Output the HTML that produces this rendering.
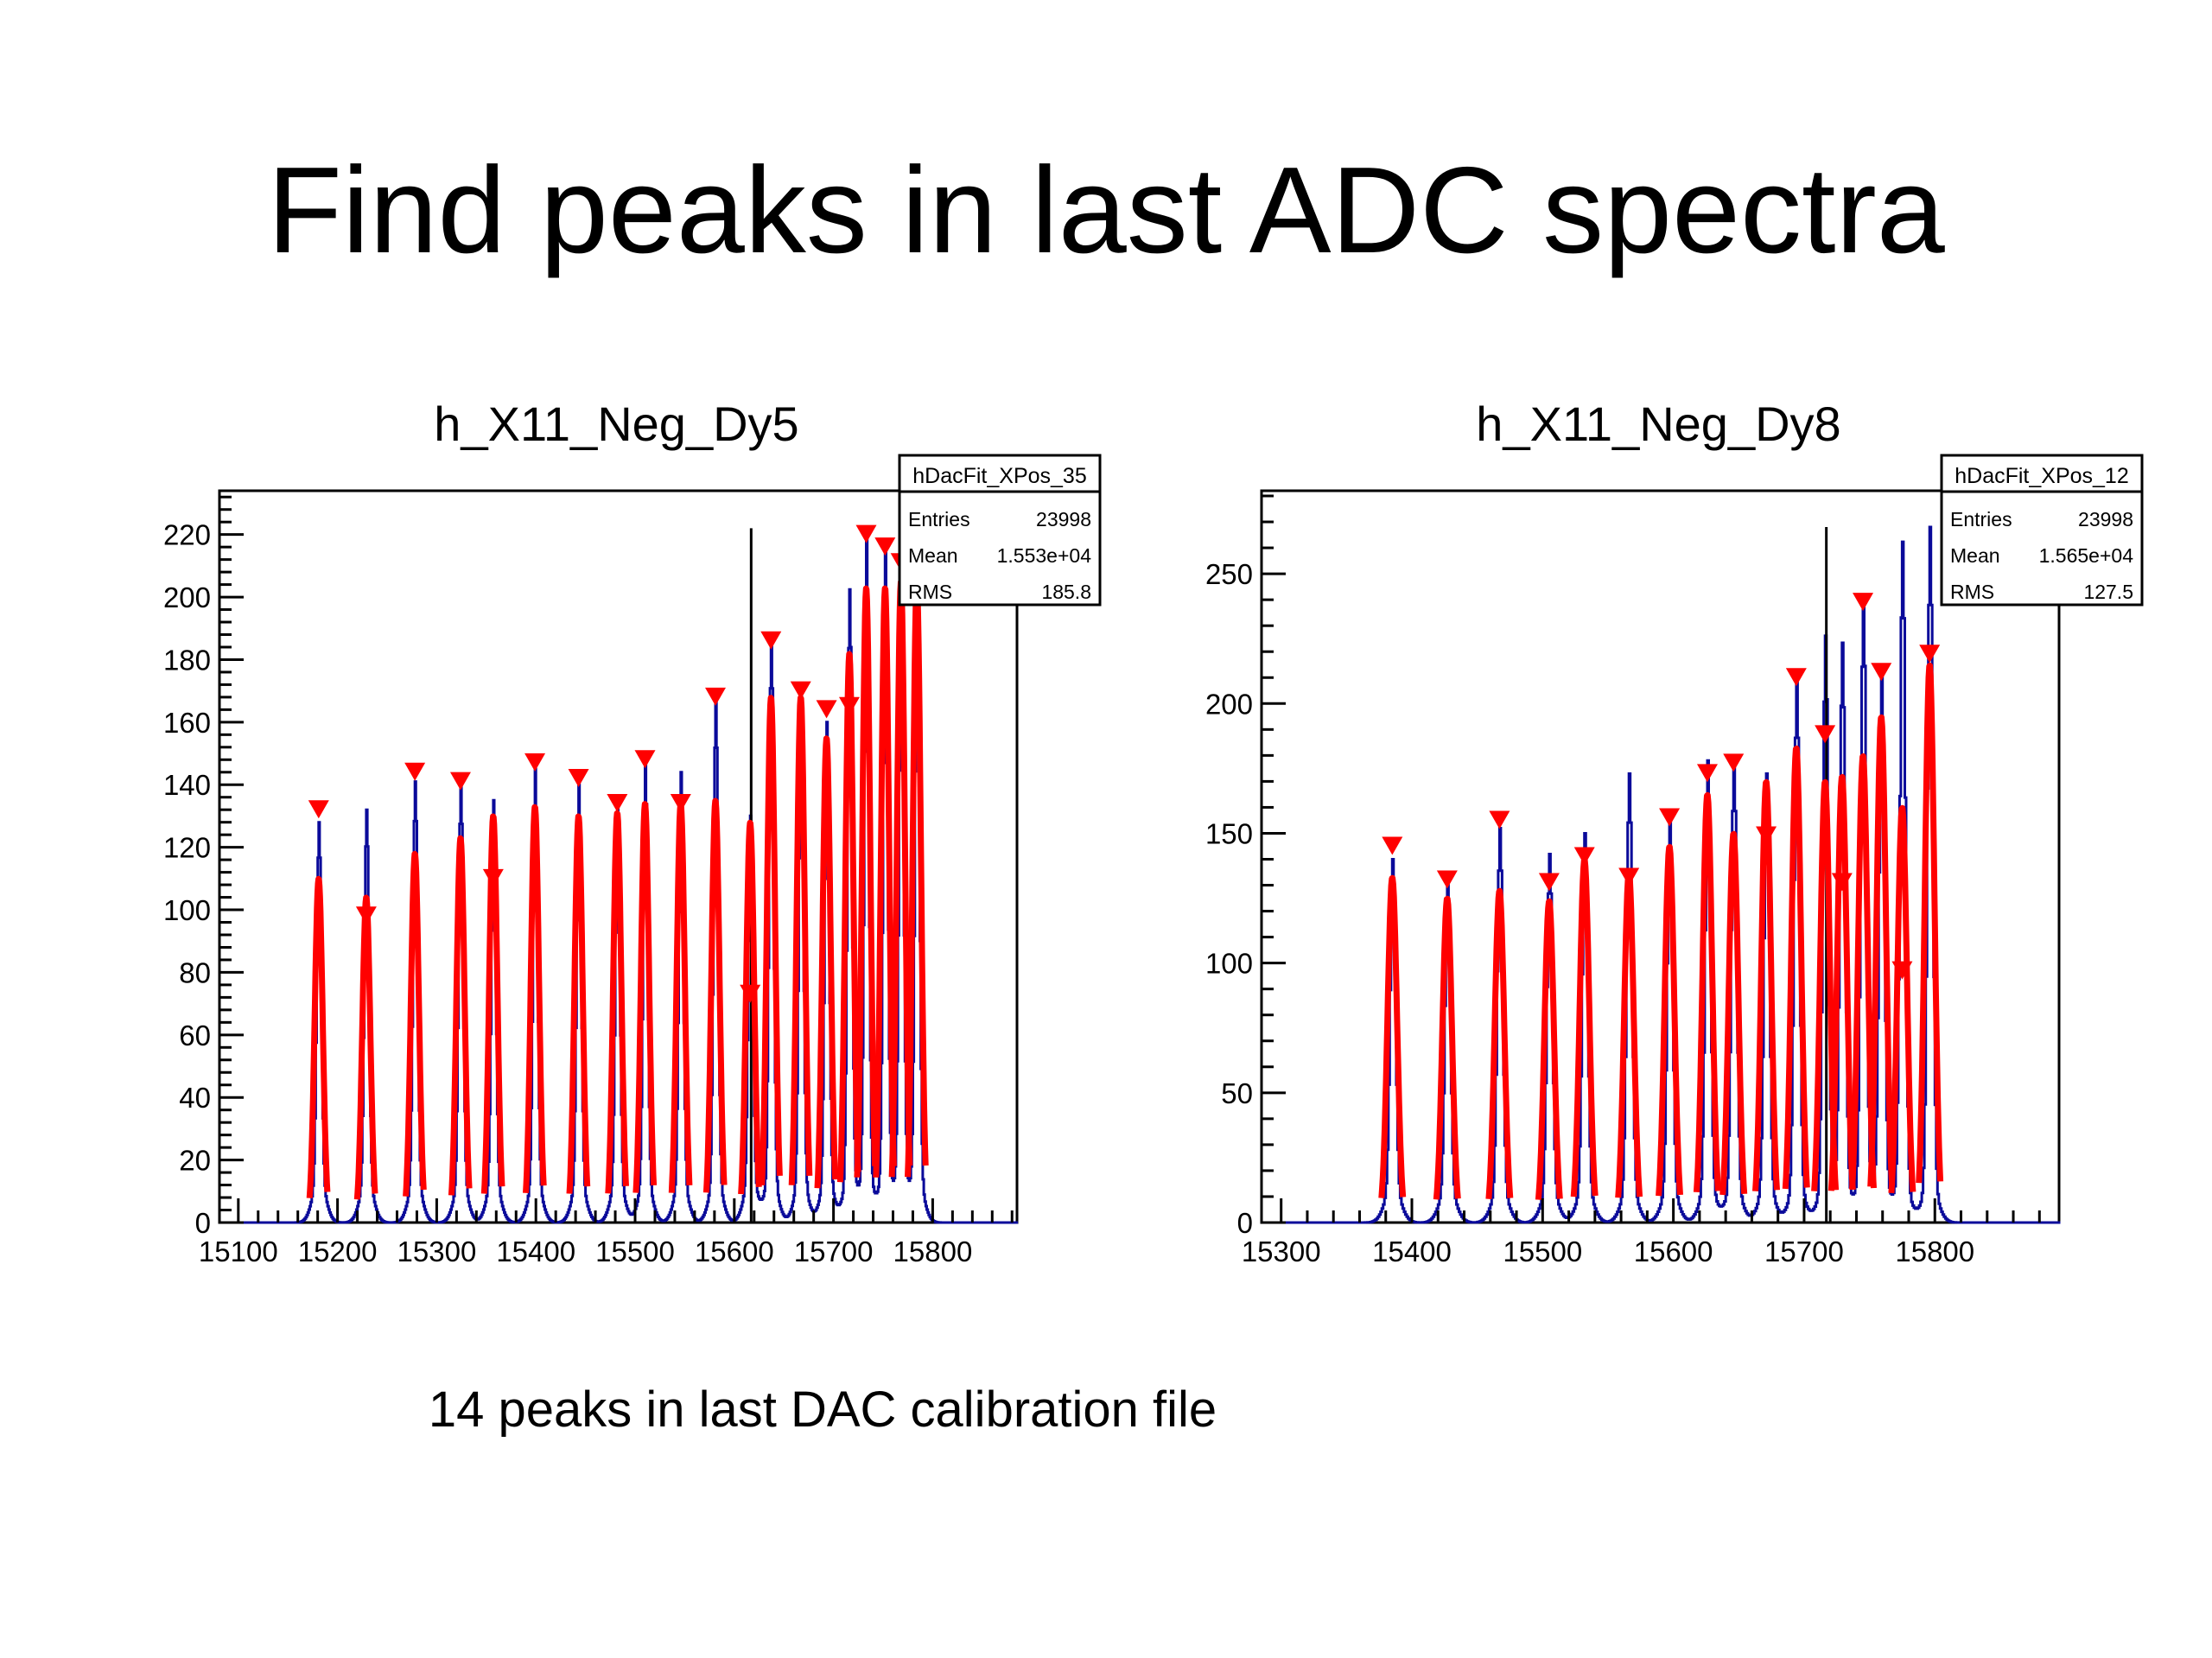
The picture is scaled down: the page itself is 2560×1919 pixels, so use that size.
<!DOCTYPE html>
<html><head><meta charset="utf-8">
<style>
html,body{margin:0;padding:0;background:#fff;}
svg{display:block;font-family:"Liberation Sans",Arial,sans-serif;}
</style></head>
<body>
<svg id="root" width="2560" height="1919" viewBox="0 0 2560 1919" xmlns="http://www.w3.org/2000/svg">
<rect x="0" y="0" width="2560" height="1919" fill="#fff"/>
<text x="1280" y="292" font-size="142" text-anchor="middle" fill="#000">Find peaks in last ADC spectra</text>
<text x="952" y="1651" font-size="58" text-anchor="middle" fill="#000">14 peaks in last DAC calibration file</text>
<g id="chartL"></g>
<g id="chartR"></g>
</svg>
<script>
// ---- Left chart data (h_X11_Neg_Dy5) ----
const leftPeakPos = [15181,15229,15278,15324,15357,15399,15443,15482,15510,15546,15581,15616,15637,15667,15693,15716,15733,15752,15768,15784];
const leftFitAmp  = [110,104,118,123,130,133,130,131,134,134,135,128,168,168,155,182,203,203,205,205];
const leftHistAmp = [128,132,141,140,135,145,140,134,147,144,167,130,188,170,160,202,220,215,210,210];
const leftMarkers = [132,98,144,141,110,147,142,134,148,134,168,73,186,170,164,165,220,216,211,0];
const leftXTicks = [15100,15200,15300,15400,15500,15600,15700,15800];
const leftYTicks = [0,20,40,60,80,100,120,140,160,180,200,220];
const leftLinePos = [15617];
const leftLineVal = [222];
// ---- Right chart data (h_X11_Neg_Dy8) ----
const rightPeakPos = [15385,15427,15467,15505,15532,15566,15597,15626,15646,15671,15694,15716,15729,15745,15759,15775,15796];
const rightFitAmp  = [133,125,128,124,140,135,145,165,150,170,183,170,172,180,195,160,215];
const rightHistAmp = [140,130,152,142,150,173,157,178,178,173,210,225,222,240,212,262,268];
const rightMarkers = [145,132,155,131,141,133,156,173,177,149,210,188,131,239,212,97,219];
const rightXTicks = [15300,15400,15500,15600,15700,15800];
const rightYTicks = [0,50,100,150,200,250];
const rightLinePos = [15717];
const rightLineVal = [268];

const NS="http://www.w3.org/2000/svg";
function mk(tag,attrs,parent){const e=document.createElementNS(NS,tag);for(const k in attrs)e.setAttribute(k,attrs[k]);parent.appendChild(e);return e;}

function drawChart(g,cfg){
  const L=cfg.L,T=568,R=cfg.R,B=1415;
  const sx=v=>L+(v-cfg.xmin)/(cfg.xmax-cfg.xmin)*(R-L);
  const sy=v=>B-(v-0)/(cfg.ymax)*(B-T);
  const title=mk('text',{x:(L+R)/2-2,y:510,'font-size':56,'text-anchor':'middle',fill:'#000'},g);
  
  
  title.textContent=cfg.title;
  const fr=mk('rect',{x:L,y:T,width:R-L,height:B-T,fill:'#fff',stroke:'#000','stroke-width':3},g);
  
  
  let d='';
  const step=1;
  for(let v=cfg.xmin;v<=cfg.xmax;v+=step){
    let y=0;
    for(let i=0;i<cfg.pos.length;i++){
      const z=(v-cfg.pos[i])/cfg.hs;const z2=(v-cfg.pos[i])/(cfg.fs*1.6);
      y+=(cfg.hist[i]-14)*Math.exp(-0.5*z*z)+14*Math.exp(-0.5*z2*z2);
    }
    y=Math.min(y,cfg.ymax);
    d+=(d?'L':'M')+sx(v).toFixed(1)+','+sy(y).toFixed(1)+'L'+sx(v+step).toFixed(1)+','+sy(y).toFixed(1);
  }
  const hp=mk('path',{d:d,fill:'none',stroke:'#0a0a9a','stroke-width':3},g);
  
  
  for(let i=0;i<cfg.linePos.length;i++){
    const bl=mk('line',{x1:sx(cfg.linePos[i]),x2:sx(cfg.linePos[i]),y1:B,y2:sy(cfg.lineVal[i]),stroke:'#000','stroke-width':3},g);
    
    
  }
  for(let i=0;i<cfg.pos.length;i++){
    let fd='';
    for(let v=cfg.pos[i]-2.3*cfg.fs;v<=cfg.pos[i]+2.3*cfg.fs;v+=0.5){
      const z=(v-cfg.pos[i])/cfg.fs;const y=Math.min(cfg.fit[i]*Math.exp(-0.5*z*z),cfg.ymax);
      fd+=(fd?'L':'M')+sx(v).toFixed(1)+','+sy(y).toFixed(1);
    }
    const fp=mk('path',{d:fd,fill:'none',stroke:'#ff0000','stroke-width':7,'stroke-linejoin':'round'},g);
    
    
  }
  for(let i=0;i<cfg.pos.length;i++){
    if(!cfg.mark[i])continue;
    const x=sx(cfg.pos[i]),y=sy(cfg.mark[i]);
    const tri=mk('polygon',{points:`${x-12},${y-11} ${x+12},${y-11} ${x},${y+10}`,fill:'#ff0000'},g);
    
    
  }
  const ta=mk('g',{stroke:'#000','stroke-width':3},g);
  
  
  const ymin_step=cfg.yTicks[1]/5;
  for(let v=0;v<=cfg.ymax;v+=ymin_step){
    const major=Math.abs(v/cfg.yTicks[1]-Math.round(v/cfg.yTicks[1]))<1e-6;
    mk('line',{x1:L,x2:L+(major?28:14),y1:sy(v),y2:sy(v)},ta);
  }
  for(let v=Math.ceil(cfg.xmin/20)*20;v<=cfg.xmax;v+=20){
    const major=v%100===0;
    mk('line',{x1:sx(v),x2:sx(v),y1:B,y2:B-(major?28:14)},ta);
  }
  cfg.yTicks.forEach(v=>{
    const t=mk('text',{x:L-10,y:sy(v)+12,'font-size':33,'text-anchor':'end',fill:'#000'},g);
    
    
    t.textContent=v;
  });
  cfg.xTicks.forEach(v=>{
    const t=mk('text',{x:sx(v),y:B+45,'font-size':33,'text-anchor':'middle',fill:'#000'},g);
    
    
    t.textContent=v;
  });
  const bx=cfg.boxX,by=527,bw=232,bh=173;
  const sb=mk('g',{},g);
  
  
  mk('rect',{x:bx,y:by,width:bw,height:bh,fill:'#fff',stroke:'#000','stroke-width':3},sb);
  mk('line',{x1:bx,x2:bx+bw,y1:by+42,y2:by+42,stroke:'#000','stroke-width':3},sb);
  const h=mk('text',{x:bx+bw/2,y:by+32,'font-size':25,'text-anchor':'middle',fill:'#000'},sb);
  h.textContent=cfg.statName;
  const rows=[['Entries','23998'],['Mean',cfg.mean],['RMS',cfg.rms]];
  rows.forEach((r,i)=>{
    const yy=by+82+i*42;
    const a=mk('text',{x:bx+10,y:yy,'font-size':23,fill:'#000'},sb);a.textContent=r[0];
    const b=mk('text',{x:bx+bw-10,y:yy,'font-size':23,'text-anchor':'end',fill:'#000'},sb);b.textContent=r[1];
  });
}
drawChart(document.getElementById('chartL'),{L:254,R:1177,xmin:15081,xmax:15885,ymax:234,title:'h_X11_Neg_Dy5',
  pos:leftPeakPos,fit:leftFitAmp,hist:leftHistAmp,mark:leftMarkers,xTicks:leftXTicks,yTicks:leftYTicks,
  linePos:leftLinePos,lineVal:leftLineVal,hs:2.2,fs:4,boxX:1041,statName:'hDacFit_XPos_35',mean:'1.553e+04',rms:'185.8'});
drawChart(document.getElementById('chartR'),{L:1460,R:2383,xmin:15285,xmax:15895,ymax:282,title:'h_X11_Neg_Dy8',
  pos:rightPeakPos,fit:rightFitAmp,hist:rightHistAmp,mark:rightMarkers,xTicks:rightXTicks,yTicks:rightYTicks,
  linePos:rightLinePos,lineVal:rightLineVal,hs:2.0,fs:3.6,boxX:2247,statName:'hDacFit_XPos_12',mean:'1.565e+04',rms:'127.5'});
</script>
</body></html>
